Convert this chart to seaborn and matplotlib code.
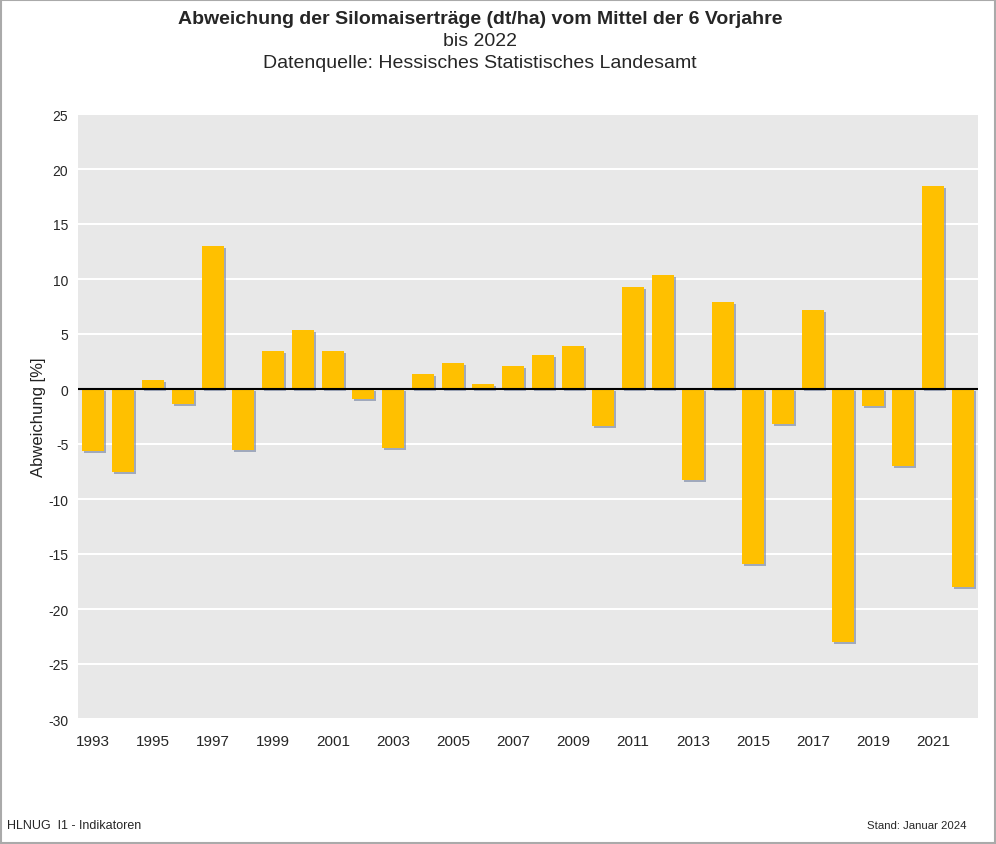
import matplotlib
matplotlib.use("Agg")
import matplotlib.pyplot as plt
import matplotlib.patheffects as pe
from matplotlib.patches import Rectangle
import seaborn as sns
import pandas as pd

years = list(range(1993, 2023))
values = [-5.6, -7.5, 0.8, -1.4, 13.0, -5.5, 3.5, 5.4, 3.5, -0.9,
          -5.4, 1.4, 2.4, 0.5, 2.1, 3.1, 3.9, -3.4, 9.3, 10.4,
          -8.3, 7.9, -15.9, -3.2, 7.2, -23.0, -1.5, -7.0, 18.5, -18.0]
yticks = list(range(-30, 30, 5))

df = pd.DataFrame({"Jahr": [str(y) for y in years], "Abweichung": values})

sns.set_theme(style="white")
plt.rcParams['font.family'] = ['Liberation Sans', 'DejaVu Sans']

fig = plt.figure(figsize=(9.96, 8.45), dpi=100)
ax = fig.add_axes([78/996, 125/845, 900/996, 605/845])
ax.set_facecolor("#e8e8e8")

sns.barplot(data=df, x="Jahr", y="Abweichung", color="#ffc000", saturation=1,
            width=0.76, ax=ax, zorder=3)
for p in ax.patches:
    p.set_path_effects([pe.SimplePatchShadow(offset=(1.5, -1.5), shadow_rgbFace="#7080a0", alpha=0.6),
                        pe.Normal()])
    p.set_edgecolor("none")

ax.set_ylim(-30, 25)
ax.set_xlim(-0.5, len(years) - 0.5)
ax.set_yticks(yticks)
ax.set_yticklabels([str(t) for t in yticks], fontsize=10)
ax.set_xticks(range(0, len(years), 2))
ax.set_xticklabels([str(y) for y in years[::2]], fontsize=11)
ax.tick_params(axis='x', length=0, pad=11)
ax.tick_params(axis='y', length=0, pad=7)
ax.grid(axis='y', color='white', linewidth=1.5, zorder=1)
ax.set_axisbelow(True)
ax.axhline(0, color='black', linewidth=1.5, zorder=4)
for s in ax.spines.values():
    s.set_visible(False)
ax.set_xlabel("")
ax.set_ylabel("Abweichung [%]", fontsize=12, color="#222222")
ax.yaxis.set_label_coords(-0.035, 0.5)

fig.text(480/996, 1 - 19/845, "Abweichung der Silomaiserträge (dt/ha) vom Mittel der 6 Vorjahre",
         ha='center', va='center', fontsize=14, fontweight='bold')
fig.text(480/996, 1 - 41/845, "bis 2022", ha='center', va='center', fontsize=14)
fig.text(480/996, 1 - 63/845, "Datenquelle: Hessisches Statistisches Landesamt",
         ha='center', va='center', fontsize=14)
fig.text(7/996, 1 - 826/845, "HLNUG  I1 - Indikatoren", ha='left', va='center', fontsize=9)
fig.text(966/996, 1 - 826/845, "Stand: Januar 2024", ha='right', va='center', fontsize=8.2)

fig.patches.append(Rectangle((1/996, 1/845), 1 - 2/996, 1 - 2/845, transform=fig.transFigure,
                             fill=False, edgecolor="#aaaaaa", linewidth=1.5))

fig.savefig("out.png", dpi=100)
